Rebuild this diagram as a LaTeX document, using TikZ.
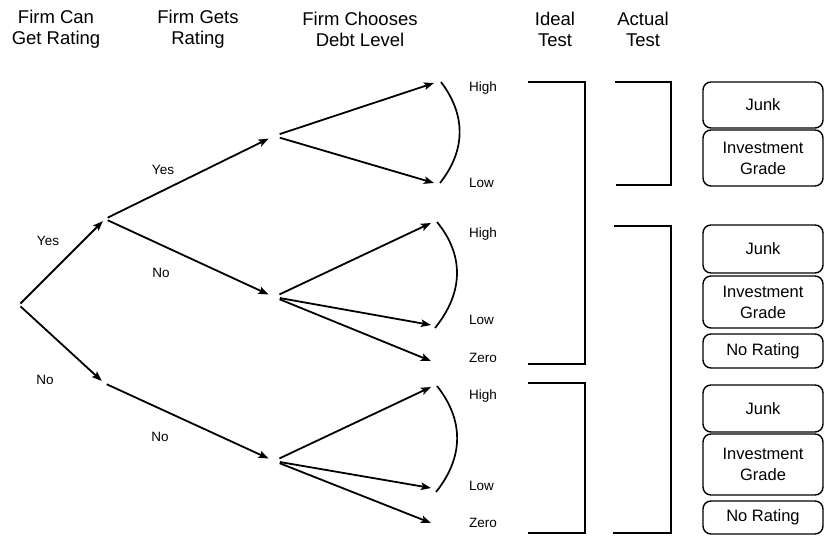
\documentclass[tikz,border=0pt]{standalone}
\usepackage{fontspec}
\setmainfont{Liberation Sans}
\usetikzlibrary{arrows.meta}
\begin{document}
\begin{tikzpicture}[x=1pt,y=-1pt,
  hdr/.style={font=\fontsize{18.5}{21}\selectfont, align=center, inner sep=0pt},
  lbl/.style={font=\fontsize{13.5}{16}\selectfont, inner sep=0pt},
  arr/.style={line width=1.8pt, -{Stealth[length=10pt,width=7.5pt,inset=2pt]}},
  curv/.style={line width=1.7pt},
  brk/.style={line width=2.4pt},
  box/.style={draw, line width=1.4pt, rounded corners=8pt, minimum width=120pt,
    inner sep=0pt, font=\fontsize{16.5}{21}\selectfont, align=center},
]
\useasboundingbox (0,0) rectangle (825,537);

% headers
\node[hdr] (h1) at (56,29.5) {Firm Can\\Get Rating};
\node[hdr] (h2) at (198,29.5) {Firm Gets\\Rating};
\node[hdr] (h3) at (360,29.5) {Firm Chooses\\Debt Level};
\node[hdr] (h4) at (555,29.5) {Ideal\\Test};
\node[hdr] (h5) at (643,29.5) {Actual\\Test};

% tree points
\coordinate (r) at (19,305);
\coordinate (a) at (105,219);
\coordinate (b) at (104,383);
\coordinate (c) at (274,136);
\coordinate (d) at (274,297);
\coordinate (e) at (274,461);
\coordinate (hA) at (434,83);
\coordinate (lA) at (434,183);
\coordinate (hB) at (431,223);
\coordinate (lB) at (431,325);
\coordinate (zB) at (431,361);
\coordinate (hC) at (431,387);
\coordinate (lC) at (431,488);
\coordinate (zC) at (431,523);

% connectors
\draw[arr, shorten <=2pt, shorten >=3pt] (r) -- (a);
\draw[arr, shorten <=2pt, shorten >=3pt] (r) -- (b);
\draw[arr, shorten <=3pt, shorten >=6pt] (a) -- (c);
\draw[arr, shorten <=3pt, shorten >=6pt] (a) -- (d);
\draw[arr, shorten <=3pt, shorten >=6pt] (b) -- (e);
\draw[arr, shorten <=6pt] (c) -- (hA);
\draw[arr, shorten <=6pt] (c) -- (lA);
\draw[arr, shorten <=6pt] (d) -- (hB);
\draw[arr, shorten <=6pt] (d) -- (lB);
\draw[arr, shorten <=6pt] (d) -- (zB);
\draw[arr, shorten <=6pt] (e) -- (hC);
\draw[arr, shorten <=6pt] (e) -- (lC);
\draw[arr, shorten <=6pt] (e) -- (zC);

% edge labels
\node[lbl] (y1) at (48,241) {Yes};
\node[lbl] (n1) at (45,380) {No};
\node[lbl] (y2) at (163,170) {Yes};
\node[lbl] (n2) at (161,273) {No};
\node[lbl] (n3) at (160,437) {No};

% curves
\draw[curv] (441,82) .. controls (466,115) and (466,150) .. (440,183);
\draw[curv] (437,222) .. controls (464,255) and (464,292) .. (435,328);
\draw[curv] (437,386) .. controls (464,420) and (464,457) .. (436,492);

% leaf labels
\node[lbl, anchor=west] (tA1) at (469,88) {High};
\node[lbl, anchor=west] (tA2) at (469,183) {Low};
\node[lbl, anchor=west] (tB1) at (469,234) {High};
\node[lbl, anchor=west] (tB2) at (469,320) {Low};
\node[lbl, anchor=west] (tB3) at (469,358) {Zero};
\node[lbl, anchor=west] (tC1) at (469,396) {High};
\node[lbl, anchor=west] (tC2) at (469,486) {Low};
\node[lbl, anchor=west] (tC3) at (469,523) {Zero};

% brackets
\draw[brk] (528,82) -- (585,82) -- (585,364) -- (528,364);
\draw[brk] (528,383) -- (585,383) -- (585,533) -- (528,533);
\draw[brk] (615,82) -- (671,82) -- (671,185) -- (616,185);
\draw[brk] (614,226) -- (671,226) -- (671,533) -- (613,533);

% boxes
\node[box, minimum height=46pt] (b1) at (763,105) {Junk};
\node[box, minimum height=56pt] (b2) at (763,158) {Investment\\Grade};
\node[box, minimum height=48pt] (b3) at (763,249) {Junk};
\node[box, minimum height=52pt] (b4) at (763,302) {Investment\\Grade};
\node[box, minimum height=34pt] (b5) at (763,351) {No Rating};
\node[box, minimum height=47pt] (b6) at (763,408.5) {Junk};
\node[box, minimum height=61pt] (b7) at (763,464.5) {Investment\\Grade};
\node[box, minimum height=33pt] (b8) at (763,517.5) {No Rating};
\end{tikzpicture}
\end{document}
